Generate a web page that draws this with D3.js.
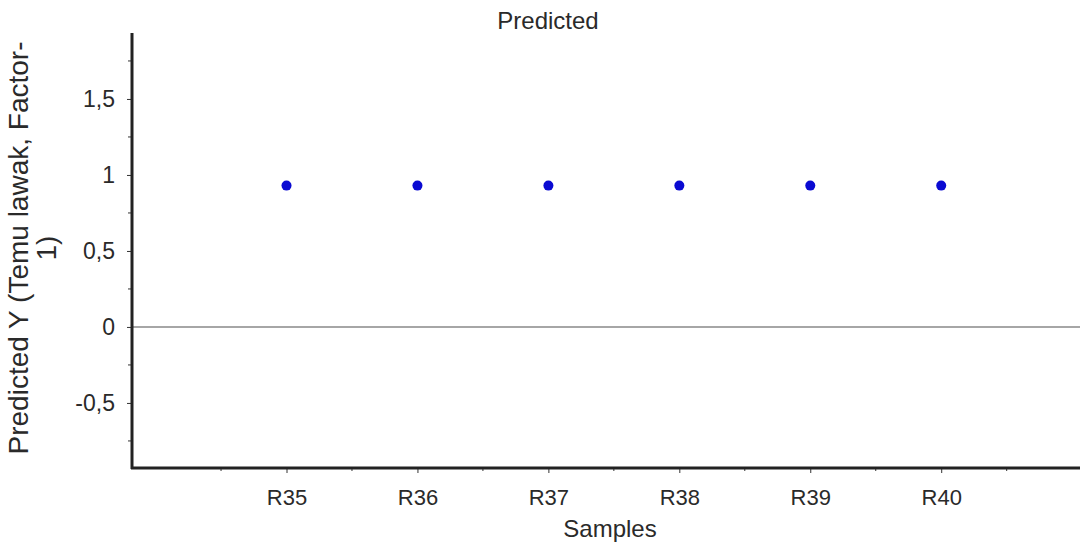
<!DOCTYPE html>
<html>
<head>
<meta charset="utf-8">
<script src="https://cdn.jsdelivr.net/npm/d3@7"></script>
<style>
  body { margin: 0; background: #fff; }
  svg { display: block; font-family: "Liberation Sans", Arial, sans-serif; }
</style>
</head>
<body>
<div id="showBox"></div>
<script>
const samples = ["R35", "R36", "R37", "R38", "R39", "R40"]
const predicted = [0.93, 0.93, 0.93, 0.93, 0.93, 0.93]
const yTicks = [-0.5, 0, 0.5, 1, 1.5]
const yMinorTicks = [-0.75, -0.25, 0.25, 0.75, 1.25, 1.75]

const width = 1080, height = 544
const plotL = 132, plotR = 1080, plotT = 33, plotB = 468

const svg = d3.select("#showBox").append("svg")
    .attr("width", width)
    .attr("height", height)

const x = d3.scaleLinear().domain([-1.18, 6.06]).range([plotL, plotR])
const y = d3.scaleLinear().domain([-0.928, 1.934]).range([plotB, plotT])

const fmt = d => d === 0 ? "0" : String(d).replace(".", ",")

// zero line
svg.append("line")
    .attr("x1", plotL).attr("x2", plotR)
    .attr("y1", y(0)).attr("y2", y(0))
    .attr("stroke", "#888").attr("stroke-width", 1.5)

// y axis
const yAxis = svg.append("g")
    .attr("transform", `translate(${plotL},0)`)
    .call(d3.axisLeft(y).tickValues(yTicks).tickSize(5).tickPadding(12).tickFormat(fmt))
yAxis.select(".domain").remove()
yAxis.selectAll("line").attr("stroke", "#333")
yAxis.selectAll("text").attr("font-size", 23).attr("fill", "#2a2a2a")
svg.append("g")
    .selectAll("line")
    .data(yMinorTicks)
    .join("line")
    .attr("x1", plotL - 4).attr("x2", plotL)
    .attr("y1", d => y(d)).attr("y2", d => y(d))
    .attr("stroke", "#333")

// x axis
const xIdx = samples.map((s, i) => i)
const xAxis = svg.append("g")
    .attr("transform", `translate(0,${plotB})`)
    .call(d3.axisBottom(x).tickValues(xIdx).tickSize(5).tickPadding(16).tickFormat(i => samples[i]))
xAxis.select(".domain").remove()
xAxis.selectAll("line").attr("stroke", "#333")
xAxis.selectAll("text").attr("font-size", 22).attr("fill", "#2a2a2a")
svg.append("g")
    .selectAll("line")
    .data(d3.range(-0.5, 6, 1))
    .join("line")
    .attr("x1", d => x(d)).attr("x2", d => x(d))
    .attr("y1", plotB).attr("y2", plotB + 3)
    .attr("stroke", "#333")

// axis lines
svg.append("line")
    .attr("x1", plotL).attr("x2", plotL)
    .attr("y1", plotT).attr("y2", plotB + 1)
    .attr("stroke", "#222").attr("stroke-width", 3)
svg.append("line")
    .attr("x1", plotL - 1).attr("x2", plotR)
    .attr("y1", plotB).attr("y2", plotB)
    .attr("stroke", "#222").attr("stroke-width", 3)

// points
svg.append("g")
    .selectAll("circle")
    .data(predicted)
    .join("circle")
    .attr("cx", (d, i) => x(i))
    .attr("cy", d => y(d))
    .attr("r", 5)
    .attr("fill", "#0a0ad2")

// titles
svg.append("text")
    .attr("x", 548).attr("y", 29)
    .attr("text-anchor", "middle")
    .attr("font-size", 24).attr("fill", "#2a2a2a")
    .text("Predicted")

svg.append("text")
    .attr("x", 610).attr("y", 537)
    .attr("text-anchor", "middle")
    .attr("font-size", 24).attr("fill", "#2a2a2a")
    .text("Samples")

const yl = svg.append("text")
    .attr("transform", "translate(28,248) rotate(-90)")
    .attr("text-anchor", "middle")
    .attr("font-size", 28).attr("fill", "#2a2a2a")
yl.append("tspan").attr("x", 0).attr("dy", 0).text("Predicted Y (Temu lawak, Factor-")
yl.append("tspan").attr("x", 0).attr("dy", 28).text("1)")
</script>
</body>
</html>
